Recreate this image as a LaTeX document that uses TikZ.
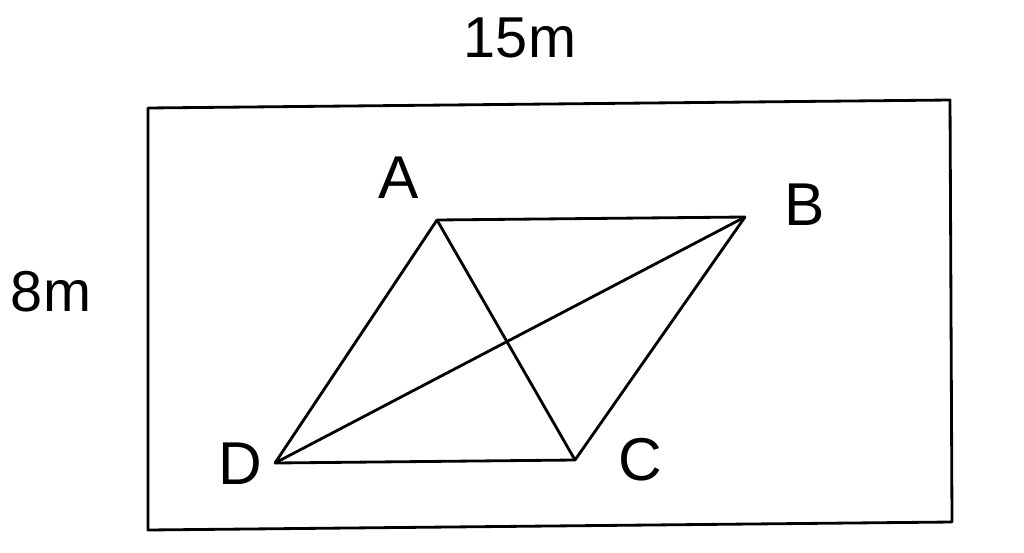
\documentclass[tikz,border=0pt]{standalone}
\usepackage{fontspec}
\setmainfont{Liberation Sans}
\begin{document}
\begin{tikzpicture}[x=0.025cm,y=-0.025cm,
  edge/.style={line width=2pt, line join=round},
  lbl/.style={font=\fontsize{43}{46}\selectfont, inner sep=0pt},
  dim/.style={font=\fontsize{41}{44}\selectfont, inner sep=0pt}]
\useasboundingbox (0,0) rectangle (1024,552);
\draw[edge] (148,108) -- (950,100) -- (952,522) -- (148,530) -- cycle;
\coordinate (A) at (437,220);
\coordinate (B) at (745,217);
\coordinate (C) at (575,460);
\coordinate (D) at (275,463);
\draw[edge] (A) -- (B) -- (C) -- (D) -- cycle;
\draw[edge] (A) -- (C);
\draw[edge] (B) -- (D);
\node[lbl] (la) at (399,178) {A};
\node[lbl] (lb) at (805,205) {B};
\node[lbl] (lc) at (640,460) {C};
\node[lbl] (ld) at (240,464) {D};
\node[dim] (w) at (520,38) {15m};
\node[dim] (h) at (51,292) {8m};
\end{tikzpicture}
\end{document}
